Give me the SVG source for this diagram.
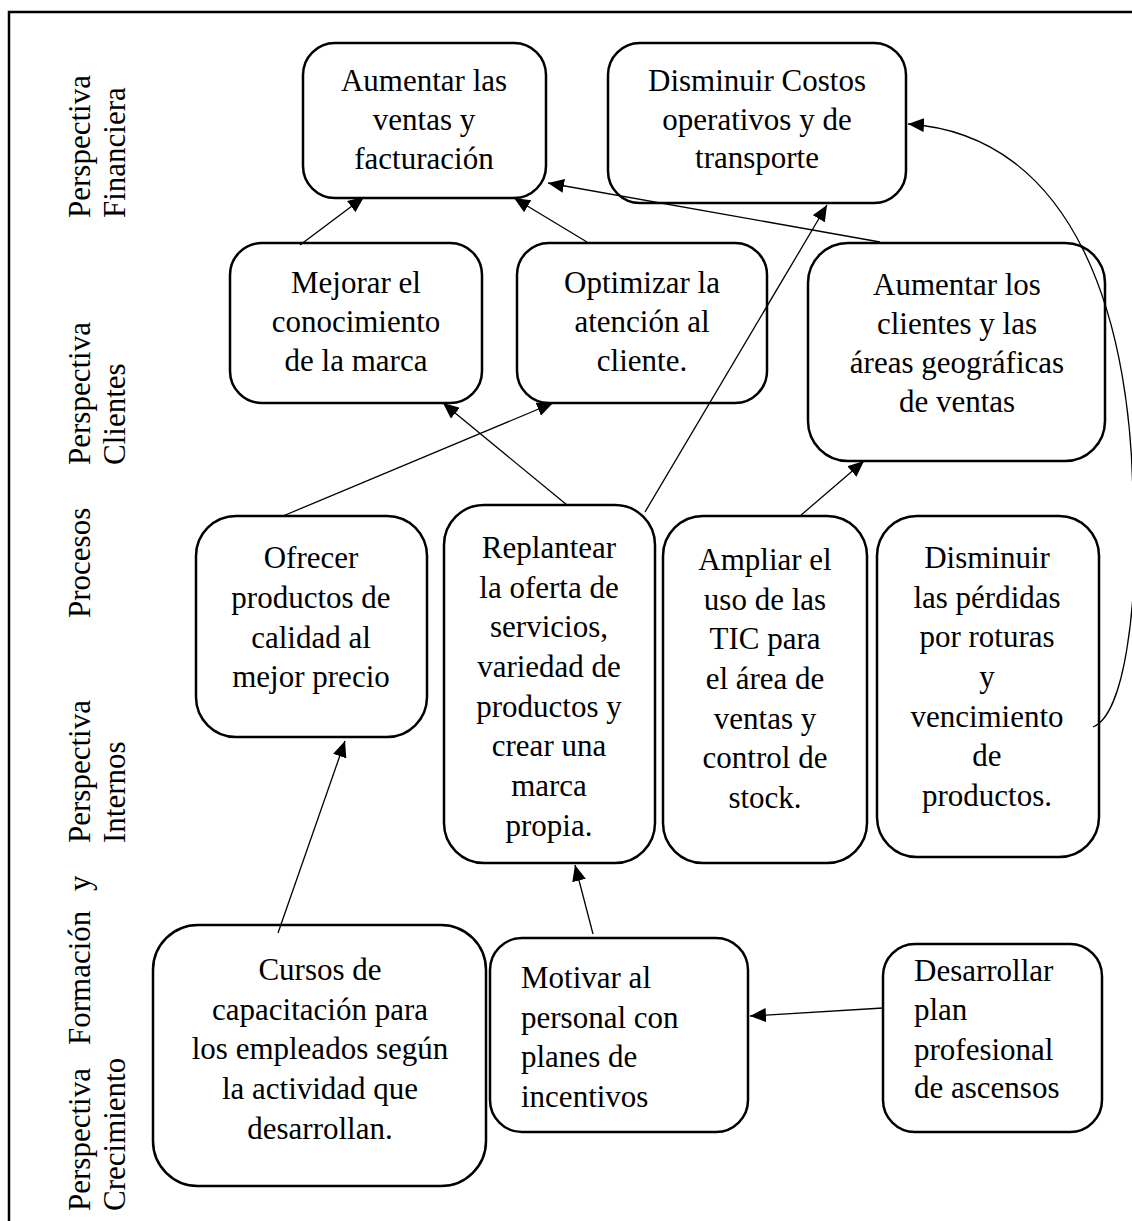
<svg xmlns="http://www.w3.org/2000/svg" width="1132" height="1221" viewBox="0 0 1132 1221">
<style>
text{font-family:"Liberation Serif","Times New Roman",serif;font-size:31px;fill:#000}
.c{text-anchor:middle}
.box{fill:#fff;stroke:#000;stroke-width:2.5}
.ln{fill:none;stroke:#000;stroke-width:1.3;marker-end:url(#ah)}
</style>
<defs>
<marker id="ah" markerUnits="userSpaceOnUse" markerWidth="18" markerHeight="14" refX="16" refY="7" orient="auto">
<path d="M0,0 L16,7 L0,14 Z" fill="#000"/>
</marker>
</defs>
<rect width="1132" height="1221" fill="#fff"/>
<path d="M9,1221 V12 H1132" fill="none" stroke="#000" stroke-width="2.5"/>

<g id="labels">
<text transform="translate(90,218) rotate(-90)">Perspectiva</text>
<text transform="translate(125,218) rotate(-90)">Financiera</text>
<text transform="translate(90,465) rotate(-90)">Perspectiva</text>
<text transform="translate(125,465) rotate(-90)">Clientes</text>
<text transform="translate(90,618) rotate(-90)">Procesos</text>
<text transform="translate(90,843) rotate(-90)">Perspectiva</text>
<text transform="translate(125,843) rotate(-90)">Internos</text>
<text transform="translate(90,1211) rotate(-90)"><tspan x="0">Perspectiva</tspan><tspan x="166">Formación</tspan><tspan x="320">y</tspan></text>
<text transform="translate(125,1211) rotate(-90)">Crecimiento</text>
</g>

<g id="n1"><rect class="box" x="303" y="43" width="243" height="155" rx="32"/>
<text class="c" x="424" y="91">Aumentar las</text><text class="c" x="424" y="130">ventas y</text><text class="c" x="424" y="169">facturación</text></g>

<g id="n2"><rect class="box" x="608" y="43" width="298" height="160" rx="32"/>
<text class="c" x="757" y="91">Disminuir Costos</text><text class="c" x="757" y="130">operativos y de</text><text class="c" x="757" y="168">transporte</text></g>

<g id="n3"><rect class="box" x="230" y="243" width="252" height="160" rx="32"/>
<text class="c" x="356" y="293">Mejorar el</text><text class="c" x="356" y="332">conocimiento</text><text class="c" x="356" y="371">de la marca</text></g>

<g id="n4"><rect class="box" x="517" y="243" width="250" height="160" rx="32"/>
<text class="c" x="642" y="293">Optimizar la</text><text class="c" x="642" y="332">atención al</text><text class="c" x="642" y="371">cliente.</text></g>

<g id="n5"><rect class="box" x="808" y="243" width="297" height="218" rx="40"/>
<text class="c" x="957" y="295">Aumentar los</text><text class="c" x="957" y="334">clientes y las</text><text class="c" x="957" y="373">áreas geográficas</text><text class="c" x="957" y="412">de ventas</text></g>

<g id="n6"><rect class="box" x="196" y="516" width="231" height="221" rx="40"/>
<text class="c" x="311" y="568">Ofrecer</text><text class="c" x="311" y="608">productos de</text><text class="c" x="311" y="648">calidad al</text><text class="c" x="311" y="687">mejor precio</text></g>

<g id="n7"><rect class="box" x="444" y="505" width="211" height="358" rx="40"/>
<text class="c" x="549" y="558">Replantear</text><text class="c" x="549" y="598">la oferta de</text><text class="c" x="549" y="637">servicios,</text><text class="c" x="549" y="677">variedad de</text><text class="c" x="549" y="717">productos y</text><text class="c" x="549" y="756">crear una</text><text class="c" x="549" y="796">marca</text><text class="c" x="549" y="836">propia.</text></g>

<g id="n8"><rect class="box" x="663" y="516" width="204" height="347" rx="40"/>
<text class="c" x="765" y="570">Ampliar el</text><text class="c" x="765" y="610">uso de las</text><text class="c" x="765" y="649">TIC para</text><text class="c" x="765" y="689">el área de</text><text class="c" x="765" y="729">ventas y</text><text class="c" x="765" y="768">control de</text><text class="c" x="765" y="808">stock.</text></g>

<g id="n9"><rect class="box" x="877" y="516" width="222" height="341" rx="40"/>
<text class="c" x="987" y="568">Disminuir</text><text class="c" x="987" y="608">las pérdidas</text><text class="c" x="987" y="647">por roturas</text><text class="c" x="987" y="687">y</text><text class="c" x="987" y="727">vencimiento</text><text class="c" x="987" y="766">de</text><text class="c" x="987" y="806">productos.</text></g>

<g id="n10"><rect class="box" x="153" y="925" width="333" height="261" rx="45"/>
<text class="c" x="320" y="980">Cursos de</text><text class="c" x="320" y="1020">capacitación para</text><text class="c" x="320" y="1059">los empleados según</text><text class="c" x="320" y="1099">la actividad que</text><text class="c" x="320" y="1139">desarrollan.</text></g>

<g id="n11"><rect class="box" x="490" y="938" width="258" height="194" rx="32"/>
<text x="521" y="988">Motivar al</text><text x="521" y="1028">personal con</text><text x="521" y="1067">planes de</text><text x="521" y="1107">incentivos</text></g>

<g id="n12"><rect class="box" x="883" y="944" width="219" height="188" rx="32"/>
<text x="914" y="981">Desarrollar</text><text x="914" y="1020">plan</text><text x="914" y="1060">profesional</text><text x="914" y="1098">de ascensos</text></g>

<g id="connectors">
<line class="ln" x1="300" y1="245" x2="364" y2="197"/>
<line class="ln" x1="587" y1="242" x2="514" y2="198"/>
<line class="ln" x1="880" y1="242" x2="548" y2="183"/>
<line class="ln" x1="645" y1="512" x2="827" y2="205"/>
<line class="ln" x1="567" y1="505" x2="443" y2="403"/>
<line class="ln" x1="283" y1="516" x2="553" y2="403"/>
<line class="ln" x1="800" y1="516" x2="864" y2="461"/>
<line class="ln" x1="278" y1="933" x2="345" y2="741"/>
<line class="ln" x1="593" y1="934" x2="575" y2="865"/>
<line class="ln" x1="883" y1="1008" x2="750" y2="1016"/>
<path class="ln" d="M1093,727 C1125,715 1138,600 1133,520 C1135,320 1075,135 908,124"/>
</g>
</svg>
